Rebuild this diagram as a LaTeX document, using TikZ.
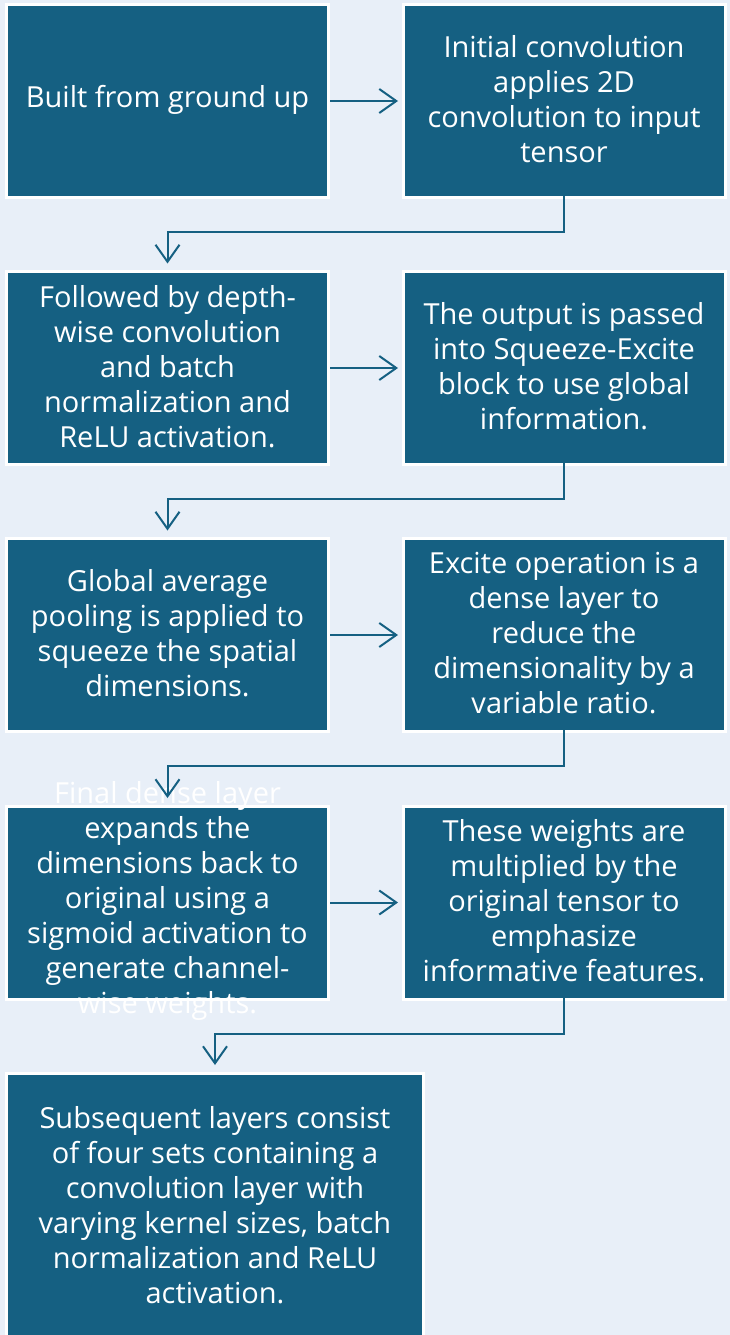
\documentclass[tikz,border=0pt]{standalone}
\usepackage{fontspec}
\setmainfont{Open Sans}
\usetikzlibrary{arrows.meta,calc}
\definecolor{boxblue}{HTML}{156082}
\definecolor{pagebg}{HTML}{E8EFF8}
\tikzset{
  stepbox/.style={draw=white, line width=3pt, fill=boxblue,
    minimum width=322pt, minimum height=193pt,
    inner sep=0pt, outer sep=0pt},
  boxtext/.style={text=white, align=center, inner sep=0pt, yshift=1.5pt,
    font=\fontsize{29}{35}\selectfont},
  flow/.style={draw=boxblue, line width=2pt,
    -{Straight Barb[length=17pt,width=24pt,line width=2pt]}},
}
\begin{document}
\begin{tikzpicture}[x=1pt,y=-1pt]
  \fill[pagebg] (0,0) rectangle (730,1335);
  \useasboundingbox (0,0) rectangle (730,1335);
  \begin{scope}
    \clip (0,0) rectangle (730,1335);
    \node[stepbox, label={[boxtext]center:Built from ground up}] (b1) at (167.5,101) {};
    \node[stepbox, label={[boxtext]center:{Initial convolution\\applies 2D\\convolution to input\\tensor}}] (b2) at (564,101) {};
    \node[stepbox, label={[boxtext]center:{Followed by depth-\\wise convolution\\and batch\\normalization and\\ReLU activation.}}] (b3) at (167.5,368) {};
    \node[stepbox, label={[boxtext]center:{The output is passed\\into Squeeze-Excite\\block to use global\\information.}}] (b4) at (564,368) {};
    \node[stepbox, label={[boxtext]center:{Global average\\pooling is applied to\\squeeze the spatial\\dimensions.}}] (b5) at (167.5,635) {};
    \node[stepbox, label={[boxtext]center:{Excite operation is a\\dense layer to\\reduce the\\dimensionality by a\\variable ratio.}}] (b6) at (564,635) {};
    \node[stepbox, label={[boxtext]center:{Final dense layer\\expands the\\dimensions back to\\original using a\\sigmoid activation to\\generate channel-\\wise weights.}}] (b7) at (167.5,902.5) {};
    \node[stepbox, label={[boxtext]center:{These weights are\\multiplied by the\\original tensor to\\emphasize\\informative features.}}] (b8) at (564,902.5) {};
    \node[stepbox, minimum width=417pt, minimum height=268pt,
      label={[boxtext]center:{Subsequent layers consist\\of four sets containing a\\convolution layer with\\varying kernel sizes, batch\\normalization and ReLU\\activation.}}] (b9) at (215,1207) {};
  \end{scope}
  % horizontal steps within a row
  \foreach \a/\b in {b1/b2, b3/b4, b5/b6, b7/b8}
    \draw[flow, shorten >=5pt, shorten <=1.5pt] (\a.east) -- (\b.west);
  % row-to-row elbow connectors
  \foreach \a/\b in {b2/b3, b4/b5, b6/b7, b8/b9}
    \draw[flow] ($(\a.south)+(0,-1.5)$) -- ++(0,36) -| ($(\b.north)+(0,-8)$);
\end{tikzpicture}
\end{document}
